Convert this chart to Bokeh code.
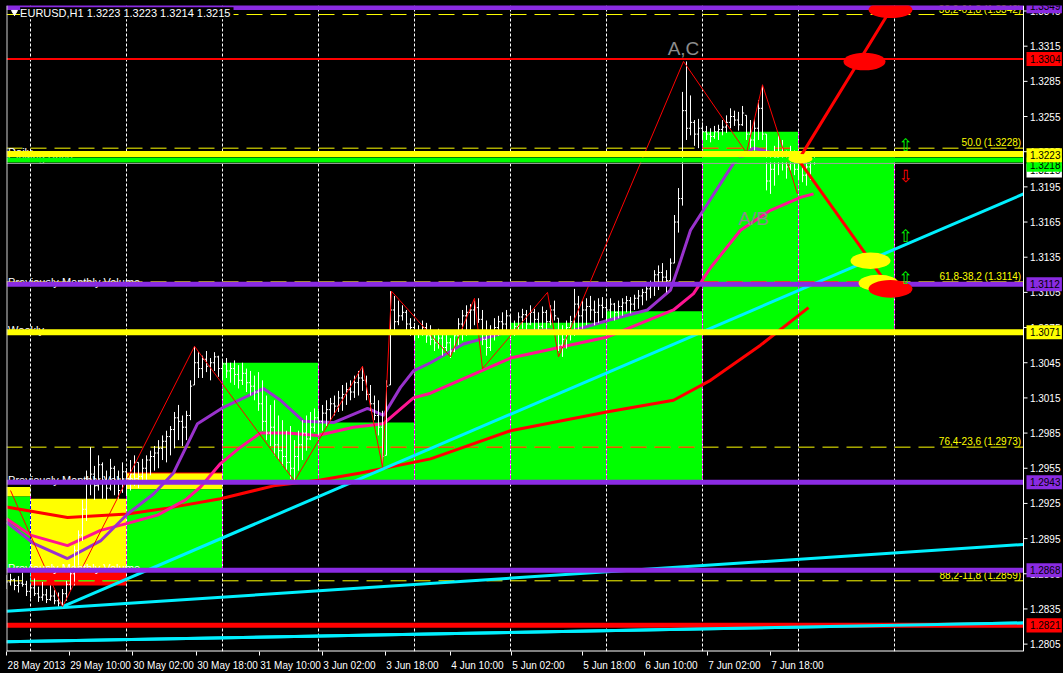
from bokeh.plotting import figure
from bokeh.models import Range1d, FixedTicker, Label
from bokeh.core.properties import value
from bokeh.embed import file_html
from bokeh.resources import INLINE

S = 10000.0  # values below are in 1/10000 of a price unit

# ---------------- hourly bars (EURUSD H1) ----------------
bar_high = [
    12864, 12865, 12861, 12863, 12866, 12859, 12856, 12861, 12854, 12858,
    12852, 12855, 12851, 12849, 12852, 12859, 12868, 12889, 12902, 12928,
    12953, 12973, 12957, 12966, 12960, 12953, 12963, 12957, 12953, 12960,
    12955, 12962, 12966, 12960, 12963, 12966, 12970, 12974, 12979, 12983,
    12987, 12991, 13003, 13009, 13000, 13004, 13030, 13059, 13054, 13051,
    13055, 13049, 13054, 13051, 13047, 13049, 13045, 13047, 13043, 13045,
    13040, 13038, 13034, 13037, 13030, 13017, 13009, 13013, 13000, 12996,
    12987, 12991, 12979, 12987, 12996, 13000, 13003, 13006, 13004, 13009,
    13013, 13015, 13017, 13021, 13026, 13028, 13030, 13034, 13038, 13042,
    13034, 13026, 13017, 13013, 13004, 13030, 13106, 13102, 13098, 13094,
    13090, 13083, 13079, 13077, 13081, 13079, 13077, 13072, 13074, 13070,
    13072, 13066, 13072, 13083, 13090, 13094, 13095, 13098, 13100, 13090,
    13081, 13077, 13083, 13085, 13088, 13090, 13085, 13081, 13088, 13091,
    13090, 13094, 13091, 13088, 13093, 13090, 13094, 13098, 13083, 13077,
    13081, 13085, 13108, 13102, 13098, 13100, 13102, 13098, 13100, 13101,
    13098, 13100, 13096, 13098, 13100, 13102, 13101, 13103, 13107, 13108,
    13111, 13115, 13124, 13128, 13130, 13124, 13134, 13171, 13194, 13276,
    13302, 13273, 13252, 13253, 13250, 13247, 13245, 13247, 13248, 13252,
    13256, 13262, 13260, 13259, 13264, 13256, 13252, 13253, 13269, 13282,
    13240, 13222, 13230, 13239, 13235, 13226, 13230, 13226, 13222, 13218,
    13219, 13224, 13223,
]
bar_low = [
    12852, 12855, 12851, 12849, 12854, 12846, 12844, 12846, 12841, 12842,
    12840, 12842, 12839, 12837, 12837, 12842, 12851, 12855, 12872, 12893,
    12910, 12932, 12928, 12936, 12929, 12928, 12936, 12932, 12929, 12934,
    12932, 12936, 12940, 12938, 12945, 12943, 12949, 12953, 12955, 12962,
    12960, 12966, 12972, 12979, 12974, 12979, 12996, 13026, 13032, 13032,
    13037, 13030, 13038, 13033, 13030, 13032, 13028, 13026, 13023, 13026,
    13020, 13017, 13013, 13004, 12987, 12979, 12974, 12966, 12962, 12957,
    12953, 12946, 12944, 12953, 12962, 12970, 12979, 12986, 12983, 12987,
    12991, 12996, 13000, 13003, 13004, 13009, 13013, 13015, 13017, 13021,
    13013, 13004, 12996, 12983, 12956, 12966, 13026, 13072, 13077, 13081,
    13072, 13068, 13064, 13066, 13068, 13062, 13060, 13055, 13057, 13051,
    13055, 13049, 13054, 13060, 13064, 13068, 13072, 13077, 13079, 13060,
    13051, 13055, 13064, 13068, 13071, 13072, 13066, 13068, 13072, 13074,
    13070, 13077, 13072, 13071, 13074, 13072, 13077, 13081, 13055, 13050,
    13057, 13064, 13068, 13072, 13074, 13077, 13081, 13077, 13079, 13083,
    13081, 13083, 13081, 13083, 13085, 13088, 13087, 13090, 13091, 13094,
    13098, 13100, 13102, 13107, 13111, 13105, 13115, 13130, 13156, 13179,
    13235, 13239, 13230, 13228, 13235, 13235, 13233, 13236, 13235, 13239,
    13241, 13245, 13247, 13243, 13247, 13235, 13228, 13226, 13235, 13235,
    13192, 13189, 13196, 13205, 13209, 13202, 13209, 13205, 13201, 13199,
    13196, 13201, 13214,
]
bar_close = [
    12858, 12860, 12855, 12857, 12856, 12850, 12853, 12848, 12845, 12847,
    12843, 12846, 12842, 12840, 12848, 12856, 12865, 12885, 12898, 12920,
    12945, 12950, 12940, 12958, 12945, 12938, 12955, 12942, 12936, 12952,
    12945, 12950, 12960, 12948, 12955, 12962, 12965, 12968, 12972, 12978,
    12982, 12988, 12998, 12995, 12990, 13000, 13025, 13045, 13040, 13048,
    13042, 13045, 13050, 13040, 13044, 13038, 13040, 13035, 13030, 13036,
    13028, 13025, 13020, 13010, 12995, 12985, 12990, 12975, 12970, 12965,
    12960, 12955, 12965, 12975, 12985, 12980, 12990, 12998, 12995, 13002,
    13005, 13010, 13008, 13015, 13018, 13022, 13020, 13028, 13032, 13030,
    13018, 13010, 13000, 12990, 12965, 13025, 13090, 13080, 13085, 13088,
    13078, 13075, 13070, 13072, 13075, 13068, 13065, 13062, 13066, 13058,
    13062, 13055, 13068, 13078, 13085, 13088, 13090, 13092, 13082, 13065,
    13058, 13070, 13075, 13080, 13078, 13085, 13072, 13076, 13084, 13086,
    13078, 13088, 13082, 13076, 13088, 13080, 13090, 13085, 13060, 13065,
    13075, 13080, 13095, 13085, 13090, 13093, 13090, 13088, 13094, 13092,
    13090, 13095, 13088, 13093, 13096, 13098, 13095, 13100, 13102, 13105,
    13108, 13112, 13120, 13122, 13118, 13115, 13130, 13165, 13185, 13260,
    13245, 13250, 13240, 13245, 13242, 13240, 13238, 13242, 13244, 13246,
    13250, 13255, 13252, 13248, 13258, 13240, 13235, 13245, 13262, 13240,
    13200, 13210, 13220, 13225, 13215, 13212, 13220, 13210, 13215, 13205,
    13212, 13222, 13215,
]
first_open = 12858
last_open = 13223

# ---------------- moving averages (bar index, value) ----------------
ma_fast_x = [0, 6.75, 15.25, 23.5, 30.25, 36.75, 41.75, 47.75, 54.25, 64.25, 68.5, 74.25, 81.75,
             90.25, 94.25, 98.5, 101.75, 106, 114.25, 126, 136, 140.25, 150.25, 160.25, 166,
             168.5, 171, 181.75, 186.75, 191.75, 196.75, 201.5]
ma_fast_y = [12909, 12891, 12878, 12893, 12916, 12933, 12951, 12993, 13007, 13023, 13013, 12995,
             12994, 13006, 13000, 13024, 13038, 13045, 13061, 13072, 13073, 13071, 13081, 13090,
             13107, 13132, 13158, 13215, 13228, 13224, 13224, 13222]
ma_mid_x = [0, 6, 15.25, 23.5, 30.25, 37.75, 44.75, 48.5, 53.5, 58.5, 63.5, 70.25, 77.75, 86.75,
            94.25, 101.75, 106, 126, 150.25, 166.75, 171.75, 176, 183.5, 191, 198.5, 201.75]
ma_mid_y = [12912, 12898, 12889, 12902, 12908, 12915, 12928, 12939, 12959, 12973, 12985, 12985,
            12983, 12990, 12993, 13015, 13019, 13049, 13067, 13090, 13104, 13126, 13158, 13175,
            13186, 13189]
ma_slow_x = [0, 15.25, 30.25, 40.25, 53.5, 66.75, 78.5, 88.5, 101.75, 106, 126, 150, 166.75,
             176, 188.5, 200.5]
ma_slow_y = [12922, 12913, 12916, 12921, 12929, 12940, 12945, 12951, 12960, 12963, 12987, 13003,
             13013, 13030, 13060, 13092]

# ---------------- zigzag / pattern ----------------
zz_x = [1, 14, 47, 72, 89, 94, 96.25, 111, 117, 119, 135.25, 138, 169.25, 185, 189, 197.75]
zz_y = [12936, 12837, 13059, 12944, 13042, 12956, 13106, 13050, 13100, 13040, 13105, 13050,
        13302, 13224, 13282, 13189]
proj_x = [221, 198, 221]
proj_y = [13346, 13218, 13108]

# trend lines: (x0, y0, x1, y1)
trend_x0 = [14, 0, 0]
trend_y0 = [12837, 12833, 12807]
trend_x1 = [254.25, 254.25, 254.25]
trend_y1 = [13189, 12890, 12823]

# horizontal levels
lvl_value = [13348, 13304, 13223, 13218, 13215, 13112, 13071, 12943, 12868, 12821]
lvl_kind = ["purple", "red", "yellow", "green", "bid", "purple", "yellow", "purple", "purple", "red"]

fib_value = [13342, 13228, 13114, 12973, 12859]
fib_text = ["38,2-61,8 (1.3342)", "50.0 (1.3228)", "61,8-38,2 (1.3114)",
            "76,4-23,6 (1.2973)", "88,2-11,8 (1.2859)"]

# daily boxes
box_left = [0, 0, 6, 6, 30, 30, 54, 78, 102, 126, 150, 174, 198]
box_right = [6, 6, 30, 30, 54, 54, 78, 102, 126, 150, 174, 198, 222]
box_top = [12939, 12931, 12929, 12867, 12951, 12937, 13045, 12994, 13073, 13079, 13089, 13242, 13220]
box_bottom = [12931, 12869, 12869, 12855, 12937, 12869, 12942, 12942, 12942, 12942, 12942, 13070, 13070]
box_kind = ["yellow", "green", "yellow", "red", "yellow", "green", "green", "green", "green",
            "green", "green", "green", "green"]

day_sep = [6, 30, 54, 78, 102, 126, 150, 174, 198, 222]

x_tick_start = [0, 15.75, 31.5, 47.5, 63.25, 79, 94.75, 111, 126.25, 144, 159.5, 175.25, 191]
x_tick_text = ["28 May 2013", "29 May 10:00", "30 May 02:00", "30 May 18:00", "31 May 10:00",
               "3 Jun 02:00", "3 Jun 18:00", "4 Jun 10:00", "5 Jun 02:00", "5 Jun 18:00",
               "6 Jun 10:00", "7 Jun 02:00", "7 Jun 18:00"]

price_ticks = [12805, 12835, 12865, 12895, 12925, 12955, 12985, 13015, 13045, 13075, 13105,
               13135, 13165, 13195, 13225, 13255, 13285, 13315, 13345]

# price tags, drawn in this order (later ones on top)
tag_value = [13349, 13304, 13215, 13218, 13223, 13112, 13071, 12943, 12868, 12821]
tag_pos = [13349, 13304, 13209, 13214, 13222, 13112, 13071, 12943, 12868, 12821]
tag_kind = ["purple", "red", "white", "green", "yellow", "purple", "yellow", "purple", "purple", "red"]

ell_x = [214.5, 221, 216, 218, 221, 198.5]
ell_y = [13302, 13346, 13132, 13113, 13108, 13219]
ell_w = [10.5, 11, 10, 10, 11, 6]
ell_h = [15, 14, 14, 14, 15, 8]
ell_kind = ["red", "red", "yellow", "yellow", "red", "yellow"]

arrow_y = [13231, 13204, 13153, 13117]
arrow_dir = ["up", "down", "up", "up"]

# ---------------- style ----------------
COL = {"purple": "#8a2be2", "red": "#ff0000", "yellow": "#ffff00", "green": "#00ff00",
       "bid": "#a0a0a0", "white": "#ffffff"}
LW = {"purple": 5, "red": 5, "yellow": 6, "green": 5, "bid": 1}
FONT = "Liberation Sans"

X0, X1 = 0, 254.25          # chart area (4 px per bar)
XE = 264.25                 # right end incl. price scale
Y0, Y1 = 1.27987, 1.33497

p = figure(width=1063, height=673, x_range=Range1d(X0, XE), y_range=Range1d(Y0, Y1),
           output_backend="svg", toolbar_location=None, y_axis_location=None,
           min_border_left=6, min_border_top=5, min_border_right=0, min_border_bottom=22,
           background_fill_color="black", border_fill_color="black")
p.grid.visible = False
p.outline_line_color = None

try:
    from bokeh.models import GlobalInlineStyleSheet
    p.stylesheets = [GlobalInlineStyleSheet(css="body{background:#000000;}")]
except Exception:
    pass

# boxes
p.quad(left=box_left, right=box_right, top=[v / S for v in box_top],
       bottom=[v / S for v in box_bottom], fill_color=[COL[k] for k in box_kind], line_color=None)
p.segment(x0=[30], y0=[12951 / S], x1=[54], y1=[12951 / S], line_color="#ff0000", line_width=1)

# vertical day separators
p.segment(x0=day_sep, y0=[Y0] * len(day_sep), x1=day_sep, y1=[Y1] * len(day_sep),
          line_color="white", line_dash="3 2", line_width=1)
ov_x, ov_t, ov_b, ov_c = [], [], [], []
for l, r, t, b, k in zip(box_left, box_right, box_top, box_bottom, box_kind):
    for d in day_sep:
        if l <= d < r or (d == r and k == "green"):
            ov_x.append(d); ov_t.append(t / S); ov_b.append(b / S)
            ov_c.append("#ff00ff" if k == "green" else ("#0000ff" if k == "yellow" else "#00ffff"))
p.segment(x0=ov_x, y0=ov_b, x1=ov_x, y1=ov_t, line_color=ov_c, line_dash="3 2", line_width=1)

# fibonacci levels
p.segment(x0=[X0] * len(fib_value), y0=[v / S for v in fib_value], x1=[X1] * len(fib_value),
          y1=[v / S for v in fib_value], line_color="#ffff00", line_dash="16 8", line_width=1)
fx0, fx1, fy, fc = [], [], [], []
for v in fib_value:
    for l, r, t, b, k in zip(box_left, box_right, box_top, box_bottom, box_kind):
        if b < v < t and k in ("green", "red"):
            fx0.append(l); fx1.append(r); fy.append(v / S)
            fc.append("#ff0000" if k == "green" else "#00ff00")
p.segment(x0=fx0, y0=fy, x1=fx1, y1=fy, line_color=fc, line_dash="16 8", line_width=1)
p.text(x=[X1 - 0.6] * len(fib_value), y=[v / S for v in fib_value], text=fib_text,
       text_color="#ffff00", text_font=value(FONT), text_font_size=value("10px"),
       text_align="right", text_baseline="bottom")

# moving averages
p.line(ma_slow_x, [v / S for v in ma_slow_y], line_color="#ff0000", line_width=3)
p.line(ma_mid_x, [v / S for v in ma_mid_y], line_color="#ff1493", line_width=3)
p.line(ma_fast_x, [v / S for v in ma_fast_y], line_color="#9932cc", line_width=3)

# OHLC bars
n = len(bar_close)
assert len(bar_high) == n and len(bar_low) == n
idx = list(range(n))
opens = []
prev = first_open
for i in range(n):
    o = last_open if i == n - 1 else prev
    o = min(max(o, bar_low[i]), bar_high[i])
    opens.append(o)
    prev = bar_close[i]
p.segment(x0=idx, y0=[v / S for v in bar_low], x1=idx, y1=[v / S for v in bar_high],
          line_color="white", line_width=1)
p.segment(x0=[i - 0.4 for i in idx], y0=[v / S for v in opens], x1=idx, y1=[v / S for v in opens],
          line_color="white", line_width=1)
p.segment(x0=idx, y0=[v / S for v in bar_close], x1=[i + 0.4 for i in idx],
          y1=[v / S for v in bar_close], line_color="white", line_width=1)

# trend lines
p.segment(x0=trend_x0, y0=[v / S for v in trend_y0], x1=trend_x1, y1=[v / S for v in trend_y1],
          line_color="#00f0ff", line_width=3)

# zigzag
p.line(zz_x, [v / S for v in zz_y], line_color="#ff0000", line_width=1)

# left level captions
cap_text = ["Daily", "Closing Price", "Previously Monthly Volume", "Weekly",
            "Previously Monthly Volume", "Previously Monthly Volume"]
cap_val = [13223, 13218, 13112, 13071, 12943, 12868]
p.text(x=[0.4] * len(cap_text), y=[v / S for v in cap_val], text=cap_text, text_color="white",
       text_font=value(FONT), text_font_size=value("11px"), text_align="left",
       text_baseline="alphabetic", y_offset=-2)

# horizontal levels
for v, k in zip(lvl_value, lvl_kind):
    lw = 2 if (k == "red" and v == 13304) else LW[k]
    p.segment(x0=[X0], y0=[v / S], x1=[X1], y1=[v / S], line_color=COL[k], line_width=lw)
p.segment(x0=[trend_x0[2]], y0=[trend_y0[2] / S], x1=[trend_x1[2]], y1=[trend_y1[2] / S],
          line_color="#00f0ff", line_width=3)

# projection
p.line(proj_x, [v / S for v in proj_y], line_color="#ff0000", line_width=3)
p.ellipse(x=ell_x, y=[v / S for v in ell_y], width=ell_w, height=[h / S for h in ell_h],
          fill_color=[COL[k] for k in ell_kind], line_color=None)

# pattern letters
p.text(x=[169.25, 186.75], y=[13313 / S, 13168 / S], text=["A,C", "A/B"], text_color="#8c8c8c",
       text_font=value(FONT), text_font_size=value("19px"), text_align="center",
       text_baseline="middle")

# arrows
p.text(x=[224.75] * len(arrow_y), y=[v / S for v in arrow_y],
       text=["\u21e7" if d == "up" else "\u21e9" for d in arrow_dir],
       text_color=["#00ff00" if d == "up" else "#ff0000" for d in arrow_dir],
       text_font=value("DejaVu Sans"), text_font_size=value("17px"), text_align="center",
       text_baseline="middle")

# title
p.add_layout(Label(x=3.4, y=13343 / S, text="EURUSD,H1  1.3223 1.3223 1.3214 1.3215",
                   text_color="white", text_font=FONT, text_font_size="11px",
                   text_baseline="middle", background_fill_color="black"))
p.scatter(x=[2.0], y=[13344 / S], marker="inverted_triangle", size=6, fill_color="white",
          line_color="white")

# ---------------- frame borders ----------------
p.segment(x0=[X0], y0=[Y0], x1=[X0], y1=[Y1], line_color="#d0d0d0", line_width=2)
p.segment(x0=[X0], y0=[Y0], x1=[X1], y1=[Y0], line_color="white", line_width=2)

# ---------------- price scale (right) ----------------
p.quad(left=[X1], right=[XE], top=[Y1], bottom=[Y0], fill_color="black", line_color=None)
p.segment(x0=[X1], y0=[Y0], x1=[X1], y1=[Y1], line_color="white", line_width=1)
p.segment(x0=[X1] * len(price_ticks), y0=[v / S for v in price_ticks],
          x1=[X1 + 1.0] * len(price_ticks), y1=[v / S for v in price_ticks],
          line_color="white", line_width=1)
p.text(x=[X1 + 1.6] * len(price_ticks), y=[v / S for v in price_ticks],
       text=["%.4f" % (v / S) for v in price_ticks], text_color="white",
       text_font=value(FONT), text_font_size=value("10px"), text_align="left",
       text_baseline="middle")
TAG_H = 6.0  # half height in 1/10000
for v, pos, k in zip(tag_value, tag_pos, tag_kind):
    p.quad(left=[X1 + 0.75], right=[XE - 0.4], top=[(pos + TAG_H) / S],
           bottom=[(pos - TAG_H) / S], fill_color=COL[k], line_color=None)
    p.text(x=[X1 + 1.6], y=[pos / S], text=["%.4f" % (v / S)], text_color="black",
           text_font=value(FONT), text_font_size=value("10px"), text_align="left",
           text_baseline="middle")

# ---------------- time axis ----------------
CW = {" ": .278, ":": .278, "M": .833, "a": .556, "y": .5, "J": .5, "u": .556, "n": .556}
pxb = 4.0
centers = []
for s, t in zip(x_tick_start, x_tick_text):
    w = sum(CW.get(c, .556) for c in t) * 10
    centers.append(round((s + 0.25 + w / 2 / pxb) * 4) / 4)
xa = p.xaxis[0]
xa.ticker = FixedTicker(ticks=centers, minor_ticks=x_tick_start)
xa.major_label_overrides = {c: t for c, t in zip(centers, x_tick_text)}
xa.axis_line_color = None
xa.major_tick_line_color = None
xa.major_tick_out = 0
xa.major_tick_in = 0
xa.minor_tick_line_color = "white"
xa.minor_tick_out = 4
xa.minor_tick_in = 0
xa.major_label_text_color = "white"
xa.major_label_text_font = FONT
xa.major_label_text_font_size = "10px"
xa.major_label_standoff = 4

open("out.html", "w").write(file_html(p, INLINE))
